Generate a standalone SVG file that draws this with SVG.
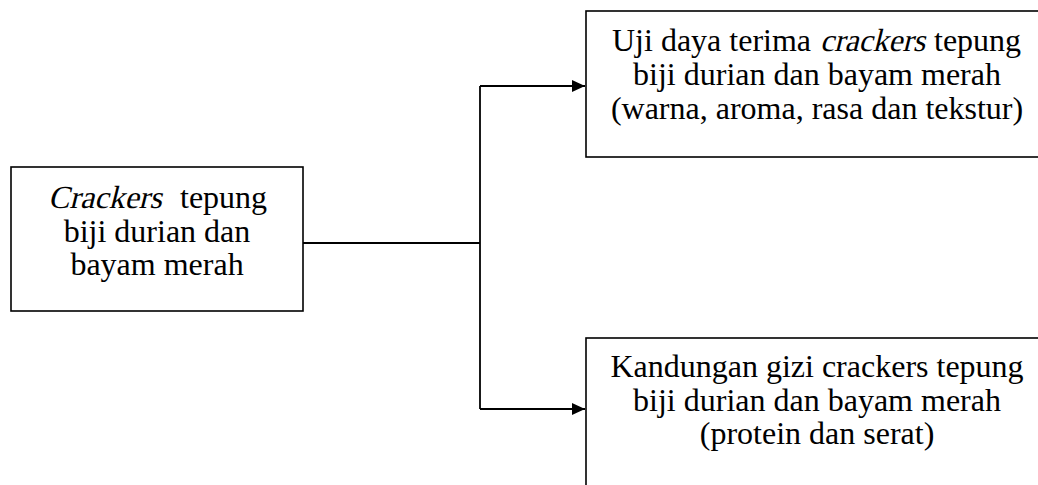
<svg xmlns="http://www.w3.org/2000/svg" width="1038" height="485" viewBox="0 0 1038 485">
<style>
.box{fill:#fff;stroke:#000;stroke-width:1.6}
.t{font-family:"Liberation Serif","Times New Roman",serif;font-size:32px;fill:#000;text-anchor:middle}
.s{text-anchor:start}
.line{fill:none;stroke:#000;stroke-width:1.8}
</style>
<defs>
<marker id="arr" markerWidth="13" markerHeight="12" refX="13" refY="6" orient="auto" markerUnits="userSpaceOnUse">
<path d="M0,0 L13,6 L0,12 Z" fill="#000"/>
</marker>
</defs>
<rect width="1038" height="485" fill="#fff"/>
<g id="connectors">
<path class="line" d="M303,243 H480"/>
<path class="line" d="M480,86 V409"/>
<path class="line" d="M480,86 H585" marker-end="url(#arr)"/>
<path class="line" d="M480,409 H585" marker-end="url(#arr)"/>
</g>
<g id="node-source">
<rect class="box" x="11" y="167" width="292" height="144"/>
<text class="t s" transform="translate(48,208) skewX(-14)" x="0" y="0">Crackers</text>
<text class="t s" x="180" y="208">tepung</text>
<text class="t" x="157" y="242">biji durian dan</text>
<text class="t" x="157" y="275">bayam merah</text>
</g>
<g id="node-uji">
<rect class="box" x="586" y="11" width="460" height="146"/>
<text class="t s" x="612" y="51">Uji daya terima</text>
<text class="t s" transform="translate(820,51) skewX(-14)" x="0" y="0" textLength="105" lengthAdjust="spacingAndGlyphs">crackers</text>
<text class="t s" x="934" y="51">tepung</text>
<text class="t" x="817" y="85">biji durian dan bayam merah</text>
<text class="t" x="817" y="119">(warna, aroma, rasa dan tekstur)</text>
</g>
<g id="node-gizi">
<rect class="box" x="586" y="338" width="460" height="160"/>
<text class="t" x="817" y="377">Kandungan gizi crackers tepung</text>
<text class="t" x="817" y="411">biji durian dan bayam merah</text>
<text class="t" x="817" y="444">(protein dan serat)</text>
</g>
</svg>
